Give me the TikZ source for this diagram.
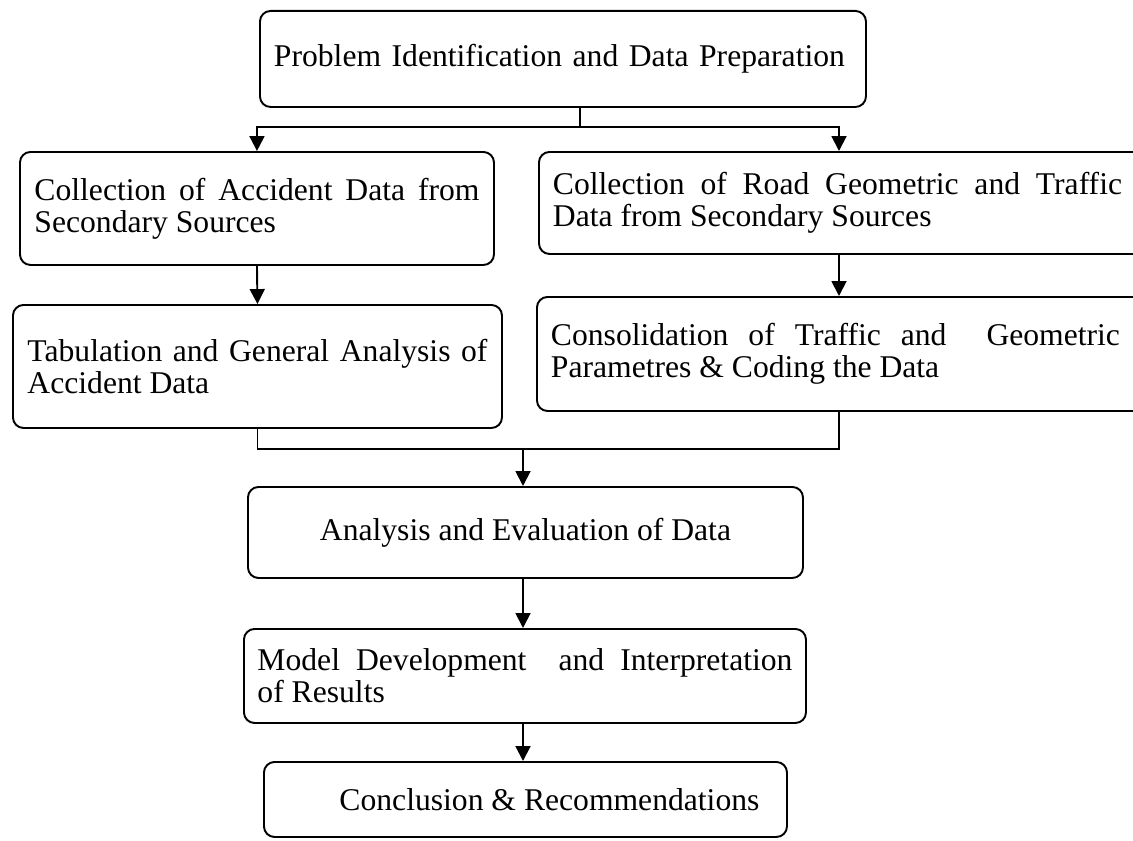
\documentclass[tikz,border=0pt]{standalone}
\usepackage{fontspec}
\setmainfont{Liberation Serif}
\usetikzlibrary{positioning,arrows.meta}

\tikzset{
  stage/.style={draw, line width=1.1pt, rounded corners=6pt, anchor=north west,
    inner sep=0pt, font=\fontsize{18}{18}\selectfont},
  wire/.style={line width=1.1pt},
  link/.style={line width=1.1pt, -{Triangle[length=8.5pt,width=8.5pt]}}
}

\begin{document}
\begin{tikzpicture}
\path[use as bounding box] (0,0) rectangle (22.66,-16.8);
\clip (0,0) rectangle (22.66,-16.8);

% stages
\node[stage, minimum width=12.12cm, minimum height=1.92cm, text width=11.56cm, align=left]
  (top) at (5.18,-0.2) {Problem Identification and Data Preparation};
\node[stage, minimum width=9.48cm, minimum height=2.26cm, text width=8.9cm, align=justify]
  (acc) at (0.38,-3.02) {Collection of Accident Data from\linebreak Secondary Sources};
\node[stage, minimum width=13cm, minimum height=2.04cm]
  (road) at (10.76,-3.02) {\makebox[12.44cm][l]{\parbox{11.38cm}{Collection of Road Geometric and Traffic\linebreak Data from Secondary Sources}}};
\node[stage, minimum width=9.78cm, minimum height=2.46cm, text width=9.2cm, align=justify]
  (tab) at (0.24,-6.08) {Tabulation and General Analysis of\linebreak Accident Data};
\node[stage, minimum width=13cm, minimum height=2.28cm]
  (cons) at (10.72,-5.92) {\makebox[12.44cm][l]{\parbox{11.38cm}{Consolidation of Traffic and~~Geometric\linebreak Parametres \& Coding the Data}}};
\node[stage, minimum width=11.1cm, minimum height=1.82cm, align=center]
  (anal) at (4.94,-9.72) {Analysis and Evaluation of Data};
\node[stage, minimum width=11.24cm, minimum height=1.88cm, text width=10.7cm, align=justify]
  (model) at (4.86,-12.56) {Model Development~~and Interpretation\linebreak of Results};
\node[stage, minimum width=10.46cm, minimum height=1.5cm, align=center]
  (concl) at (5.26,-15.22) {\hspace*{0.96cm}Conclusion \& Recommendations};

% connectors
\coordinate (split) at (11.6,-2.54);
\coordinate (rcol) at (16.78,0);
\coordinate (merge) at (10.46,-8.98);
\draw[wire] (top.south -| split) -- (split);
\draw[link] (split) -| (acc.north);
\draw[link] (split) -| (rcol |- road.north);
\draw[link] (acc.south) -- (tab.north);
\draw[link] (rcol |- road.south) -- (rcol |- cons.north);
\draw[wire] (tab.south) |- (merge);
\draw[wire] (rcol |- cons.south) |- (merge);
\draw[link] (merge) -- (merge |- anal.north);
\draw[link] (merge |- anal.south) -- (merge |- model.north);
\draw[link] (merge |- model.south) -- (merge |- concl.north);
\end{tikzpicture}
\end{document}
